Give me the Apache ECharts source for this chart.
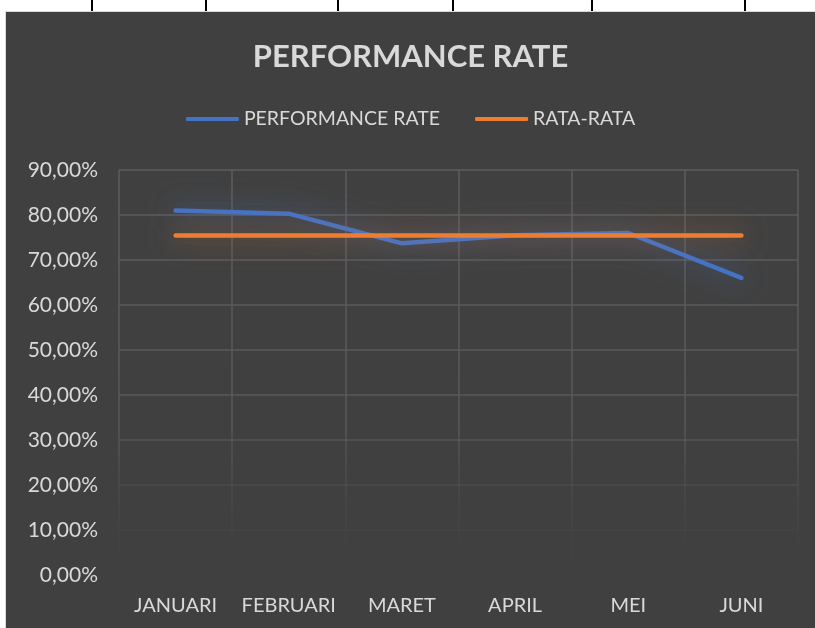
<!DOCTYPE html>
<html>
<head>
<meta charset="utf-8">
<script src="https://cdn.jsdelivr.net/npm/echarts@6/dist/echarts.min.js"></script>
<style>
  html, body { margin: 0; padding: 0; background: #fff; }
  #strip { position: absolute; left: 0; top: 0; width: 815px; height: 11px; overflow: hidden; }
  #strip div { position: absolute; top: 0; height: 11px; border-left: 2px solid #000; }
  #strip span { position: absolute; top: -15px; font: bold 17px "Liberation Serif", serif; color: #000; }
  #chart { position: absolute; left: 5px; top: 11px; width: 810px; height: 617px;
           border-left: 1px solid #d9d9d9; border-top: 1px solid #d9d9d9; box-sizing: border-box; }
</style>
</head>
<body>
<div id="strip">
  <div style="left:91px"></div><div style="left:205px"></div><div style="left:337px"></div>
  <div style="left:452px"></div><div style="left:591px"></div><div style="left:744px"></div>
  <span style="left:118px">Juni</span>
  <span style="left:262px">2349</span>
  <span style="left:380px">158</span>
  <span style="left:510px">0.1581</span>
  <span style="left:638px">66.04%</span>
</div>
<div id="chart"></div>
<script>
const months = ['JANUARI', 'FEBRUARI', 'MARET', 'APRIL', 'MEI', 'JUNI'];
const performanceRate = [81.0, 80.3, 73.7, 75.5, 76.0, 66.04];
const rataRata = [75.42, 75.42, 75.42, 75.42, 75.42, 75.42];
const yTicks = [0, 10, 20, 30, 40, 50, 60, 70, 80, 90];

const chart = echarts.init(document.getElementById('chart'));
const labelColor = '#D9D9D9';
const font = 'Lato, "Open Sans", sans-serif';

// grid lines fade out toward the bottom of the plot
const gridFade = {
  type: 'linear', x: 0, y: 158, x2: 0, y2: 564, global: true,
  colorStops: [
    { offset: 0, color: 'rgba(92,92,92,1)' },
    { offset: 0.62, color: 'rgba(92,92,92,0.85)' },
    { offset: 0.78, color: 'rgba(92,92,92,0.35)' },
    { offset: 0.9, color: 'rgba(92,92,92,0.08)' },
    { offset: 1, color: 'rgba(92,92,92,0)' }
  ]
};

chart.setOption({
  backgroundColor: '#404040',
  animation: false,
  title: {
    text: 'PERFORMANCE RATE',
    left: 'center',
    top: 24,
    textStyle: { color: labelColor, fontFamily: font, fontWeight: 'bold', fontSize: 31 }
  },
  legend: {
    top: 92,
    left: 'center',
    itemGap: 35,
    itemWidth: 53,
    itemHeight: 4,
    icon: 'roundRect',
    textStyle: { color: labelColor, fontFamily: font, fontSize: 19.5 },
    data: ['PERFORMANCE RATE', 'RATA-RATA']
  },
  grid: { left: 113, right: 17, top: 158, bottom: 53, containLabel: false },
  xAxis: {
    type: 'category',
    data: months,
    boundaryGap: true,
    axisLine: { show: false },
    axisTick: { show: false },
    axisLabel: { interval: 0, color: labelColor, fontFamily: font, fontSize: 20, margin: 21 },
    splitLine: { show: true, interval: 0, lineStyle: { color: gridFade, width: 1.5 } }
  },
  yAxis: {
    type: 'value',
    min: yTicks[0],
    max: yTicks[yTicks.length - 1],
    interval: 10,
    axisLine: { show: false },
    axisTick: { show: false },
    axisLabel: {
      color: labelColor, fontFamily: font, fontSize: 21, margin: 21,
      formatter: v => v.toFixed(2).replace('.', ',') + '%'
    },
    splitLine: { show: true, lineStyle: { color: gridFade, width: 1.5 } }
  },
  series: [
    {
      name: 'PERFORMANCE RATE',
      type: 'line',
      data: performanceRate,
      showSymbol: false,
      symbol: 'none',
      itemStyle: { color: '#4472C4' },
      lineStyle: {
        color: '#4472C4', width: 4.5, cap: 'round', join: 'round',
        shadowBlur: 26, shadowColor: 'rgba(68,114,196,0.7)'
      },
      z: 3
    },
    {
      name: 'RATA-RATA',
      type: 'line',
      data: rataRata,
      showSymbol: false,
      symbol: 'none',
      itemStyle: { color: '#ED7D31' },
      lineStyle: {
        color: '#ED7D31', width: 4.5, cap: 'round',
        shadowBlur: 26, shadowColor: 'rgba(237,125,49,0.6)'
      },
      z: 4
    }
  ]
});
</script>
</body>
</html>
